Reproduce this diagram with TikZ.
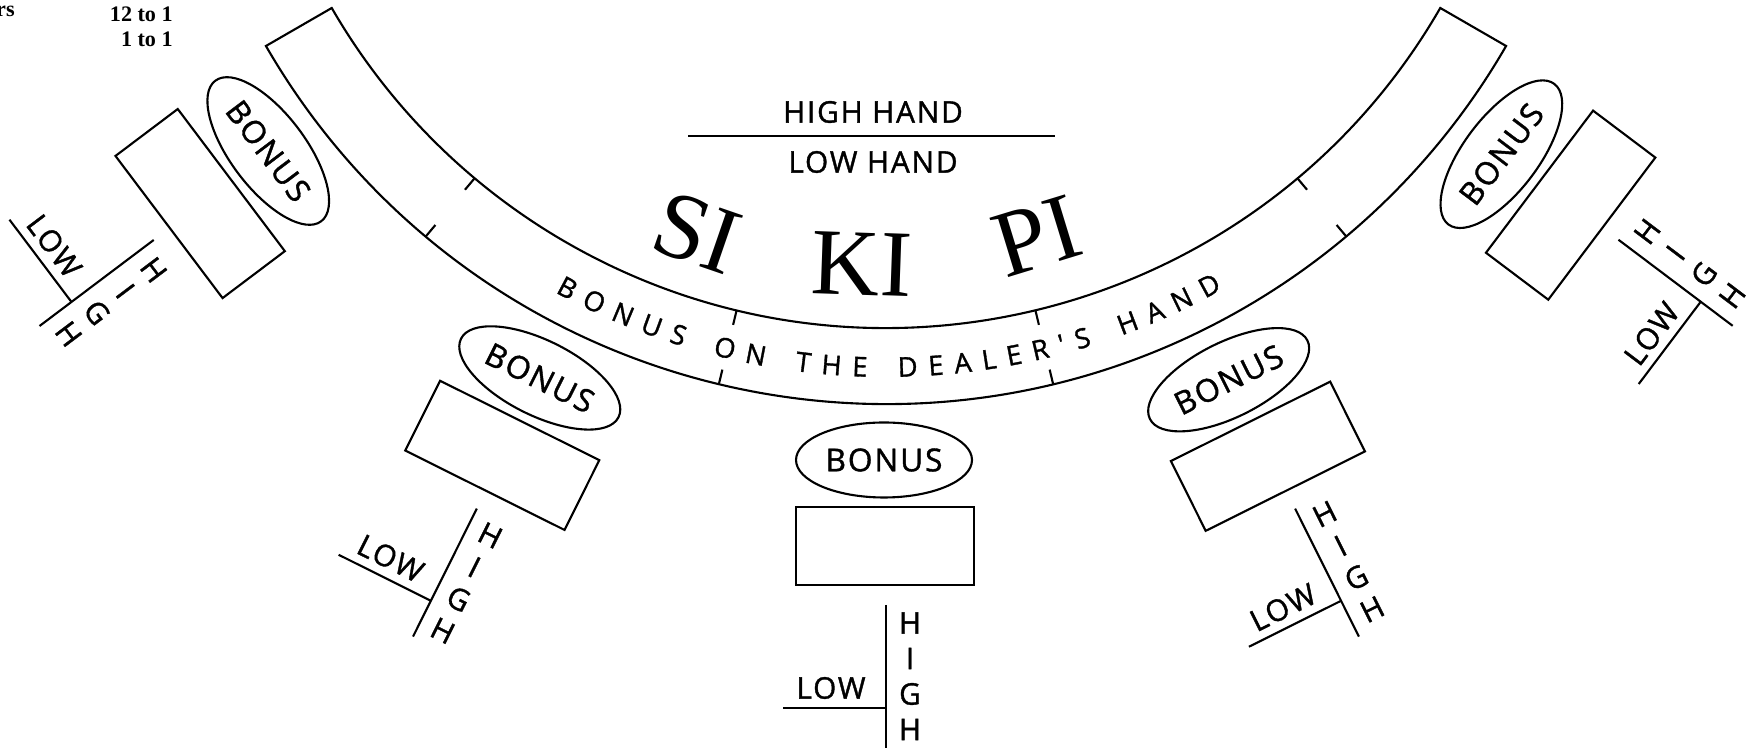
\documentclass[tikz,border=0pt]{standalone}
\usepackage{fontspec}
\setmainfont{Liberation Serif}
\newfontfamily\handfont[LetterSpace=6,FakeBold=1.2]{Open Sans}
\newcommand\bandfont{\handfont\fontsize{15.5}{17}\selectfont}
\usetikzlibrary{calc,shapes.geometric,decorations.text}

\tikzset{
  table line/.style={line width=1.2pt},
  betbox/.style={draw,line width=1.2pt,minimum width=3.56cm,minimum height=1.56cm,inner sep=0},
  bonusoval/.style={draw,ellipse,line width=1.2pt,minimum width=3.52cm,minimum height=1.5cm,inner sep=0,font=\handfont\fontsize{18}{20}\selectfont},
  hand/.style={inner sep=0,font=\handfont\fontsize{17}{20}\selectfont},
  gamename/.style={inner sep=0,font=\fontsize{54}{60}\selectfont},
  paytext/.style={inner sep=0,font=\bfseries\fontsize{12.6}{14}\selectfont}
}

\begin{document}
\begin{tikzpicture}[x=0.02cm,y=0.02cm]
\useasboundingbox (0,0) rectangle (1753,749);
\coordinate (C) at (886,1061);

\node[paytext,anchor=base east] at (15,732) (pairs) {rs};
\node[paytext,anchor=base east] at (173,727) (pay12) {12 to 1};
\node[paytext,anchor=base east] at (173,702) (pay1) {1 to 1};

\draw[table line] ($(C)+(210:716)$) arc[start angle=210,end angle=330,radius=716]
  -- ($(C)+(330:640)$) arc[start angle=330,end angle=210,radius=640] -- cycle;
\foreach \t in {230,256.5,283.5,310} {
  \draw[table line] ($(C)+(\t:640)$) -- ($(C)+(\t:655)$);
  \draw[table line] ($(C)+(\t:716)$) -- ($(C)+(\t:701)$);
}
\path[decorate,decoration={text along path,text align={fit to path},
  text={|\bandfont|BONUS ON THE DEALER'S HAND}}]
  ($(C)+(241.3:689)$) arc[start angle=241.3,end angle=299.2,radius=689];

\node[hand] at (873,637) (highhand) {HIGH HAND};
\coordinate (divl) at (688,613);
\coordinate (divr) at (1055,613);
\draw[table line] (divl) -- (divr);
\node[hand] at (873,587) (lowhand) {LOW HAND};

\node[gamename,rotate=-19] at (697,516) (si) {SI};
\node[gamename,rotate=-2] at (862,485) (ki) {KI};
\node[gamename,rotate=17] at (1037,513) (pi) {PI};

\foreach \a [count=\i] in {-53,-26.5,0,26.5,53} {
  \begin{scope}[rotate around={\a:(C)},transform shape]
    \node[bonusoval] at (884,289) (bonus\i) {BONUS};
    \node[betbox] at (885,203) (bet\i) {};
    \coordinate (top\i) at (886,144);
    \coordinate (bot\i) at (886,1);
    \coordinate (joint\i) at (886,41);
    \coordinate (lowend\i) at (783,41);
    \draw[table line] (top\i) -- (bot\i);
    \draw[table line] (lowend\i) -- (joint\i);
    \node[hand] at (831,61) (low\i) {LOW};
    \foreach \l [count=\k] in {H,I,G,H}
      \node[hand] at (910,{161.5-35.5*\k}) (high\i\k) {\l};
  \end{scope}
}
\end{tikzpicture}
\end{document}
